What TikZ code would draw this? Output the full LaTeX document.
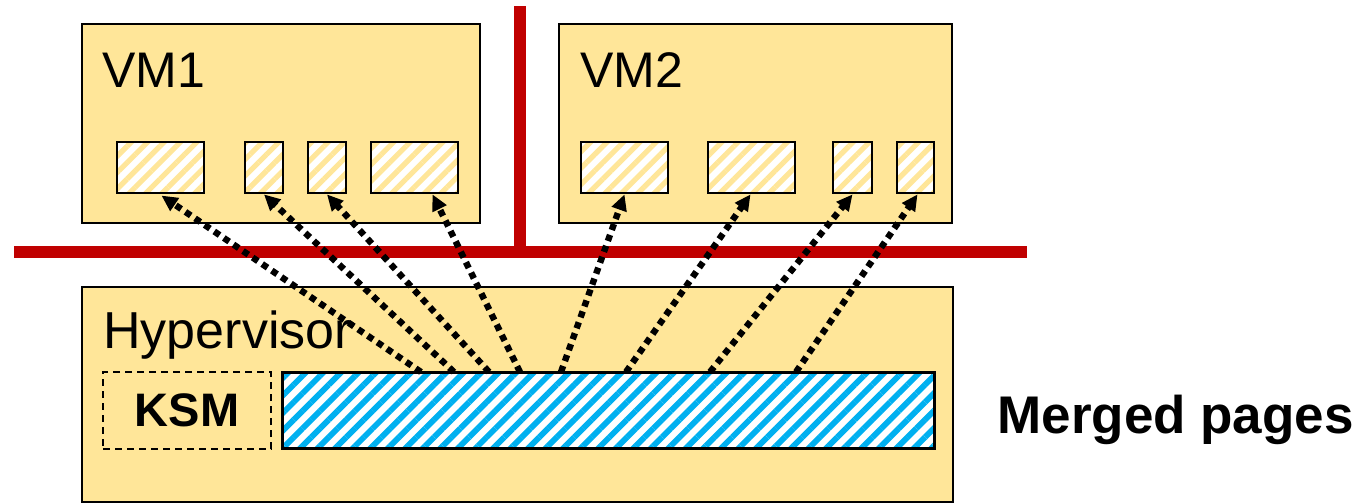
\documentclass[tikz,border=0pt]{standalone}
\usepackage{fontspec}
\setmainfont{Liberation Sans}
\usetikzlibrary{patterns.meta,arrows.meta,fit,calc}
\definecolor{boxyellow}{HTML}{FFE699}
\definecolor{redline}{HTML}{C00000}
\definecolor{cyanstripe}{HTML}{00B0F0}
\begin{document}
\begin{tikzpicture}[x=0.5pt,y=-0.5pt,
  outerbox/.style={draw=black, line width=1pt, fill=boxyellow, inner sep=0pt},
  pagebox/.style={draw=black, line width=1.4pt, inner sep=0pt, preaction={fill=white},
    pattern={Lines[angle=45,distance=5.8pt,line width=2.6pt]}, pattern color=boxyellow},
  mergedbox/.style={draw=black, line width=1.5pt, inner sep=0pt, preaction={fill=white},
    pattern={Lines[angle=45,distance=6.2pt,line width=2.9pt]}, pattern color=cyanstripe},
  ksmbox/.style={draw=black, line width=1.2pt, dash pattern=on 3.5pt off 2.5pt, inner sep=0pt},
  biglabel/.style={anchor=base west, inner sep=0pt, font=\fontsize{25}{30}\selectfont},
  arr/.style={line width=3.2pt, dash pattern=on 3.2pt off 2.6pt,
    -{Triangle[length=8pt,width=7.5pt]}},
  wall/.style={draw=redline, line width=6pt, line cap=butt}
]
\useasboundingbox (0,0) rectangle (1365,503);

% outer boxes
\node[outerbox, fit={(82,24)(480,223)}] (vm1) {};
\node[outerbox, fit={(559,24)(952,223)}] (vm2) {};
\node[outerbox, fit={(82,287)(953,502)}] (hyp) {};

% labels
\node[biglabel] (vm1lbl) at (102,87) {VM1};
\node[biglabel] (vm2lbl) at (580,87) {VM2};
\node[biglabel, font=\fontsize{26}{30}\selectfont] (hyplbl) at (103,348) {Hypervisor};

% pages in VM1
\node[pagebox, fit={(117,142)(204,193)}] (p11) {};
\node[pagebox, fit={(245,142)(283,193)}] (p12) {};
\node[pagebox, fit={(308,142)(346,193)}] (p13) {};
\node[pagebox, fit={(371,142)(458,193)}] (p14) {};
% pages in VM2
\node[pagebox, fit={(581,142)(668,193)}] (p21) {};
\node[pagebox, fit={(708,142)(795,193)}] (p22) {};
\node[pagebox, fit={(833,142)(872,193)}] (p23) {};
\node[pagebox, fit={(897,142)(934,193)}] (p24) {};

% KSM and merged pages
\node[ksmbox, fit={(103,372)(271,449)}] (ksm) {};
\node[font=\bfseries\fontsize{23.5}{28}\selectfont, inner sep=0pt] (ksmlbl) at (ksm.center) {KSM};
\node[mergedbox, fit={(282,372)(934,448)}] (mp) {};
\node[biglabel, font=\bfseries\fontsize{26.5}{30}\selectfont] (mplbl) at (997,433) {Merged pages};

% red isolation walls
\coordinate (wtop) at (520,6);
\coordinate (wjoin) at (520,252);
\coordinate (wl) at (14,251.5);
\coordinate (wr) at (1027,251.5);
\draw[wall] (wtop) -- (wjoin);
\draw[wall] (wl) -- (wr);

% arrows from merged pages
\coordinate (s1) at (421,372);
\coordinate (s2) at (454,372);
\coordinate (s3) at (489,372);
\coordinate (s4) at (520,372);
\coordinate (s5) at (561,372);
\coordinate (s6) at (626,372);
\coordinate (s7) at (710,372);
\coordinate (s8) at (796,372);
\draw[arr] (s1) -- ($(p11.south)+(1,0)$);
\draw[arr] (s2) -- (p12.south);
\draw[arr] (s3) -- (p13.south);
\draw[arr] (s4) -- ($(p14.south)+(18,0)$);
\draw[arr] (s5) -- (p21.south);
\draw[arr] (s6) -- ($(p22.south)+(-1,0)$);
\draw[arr] (s7) -- (p23.south);
\draw[arr] (s8) -- ($(p24.south)+(2,0)$);
\end{tikzpicture}
\end{document}
